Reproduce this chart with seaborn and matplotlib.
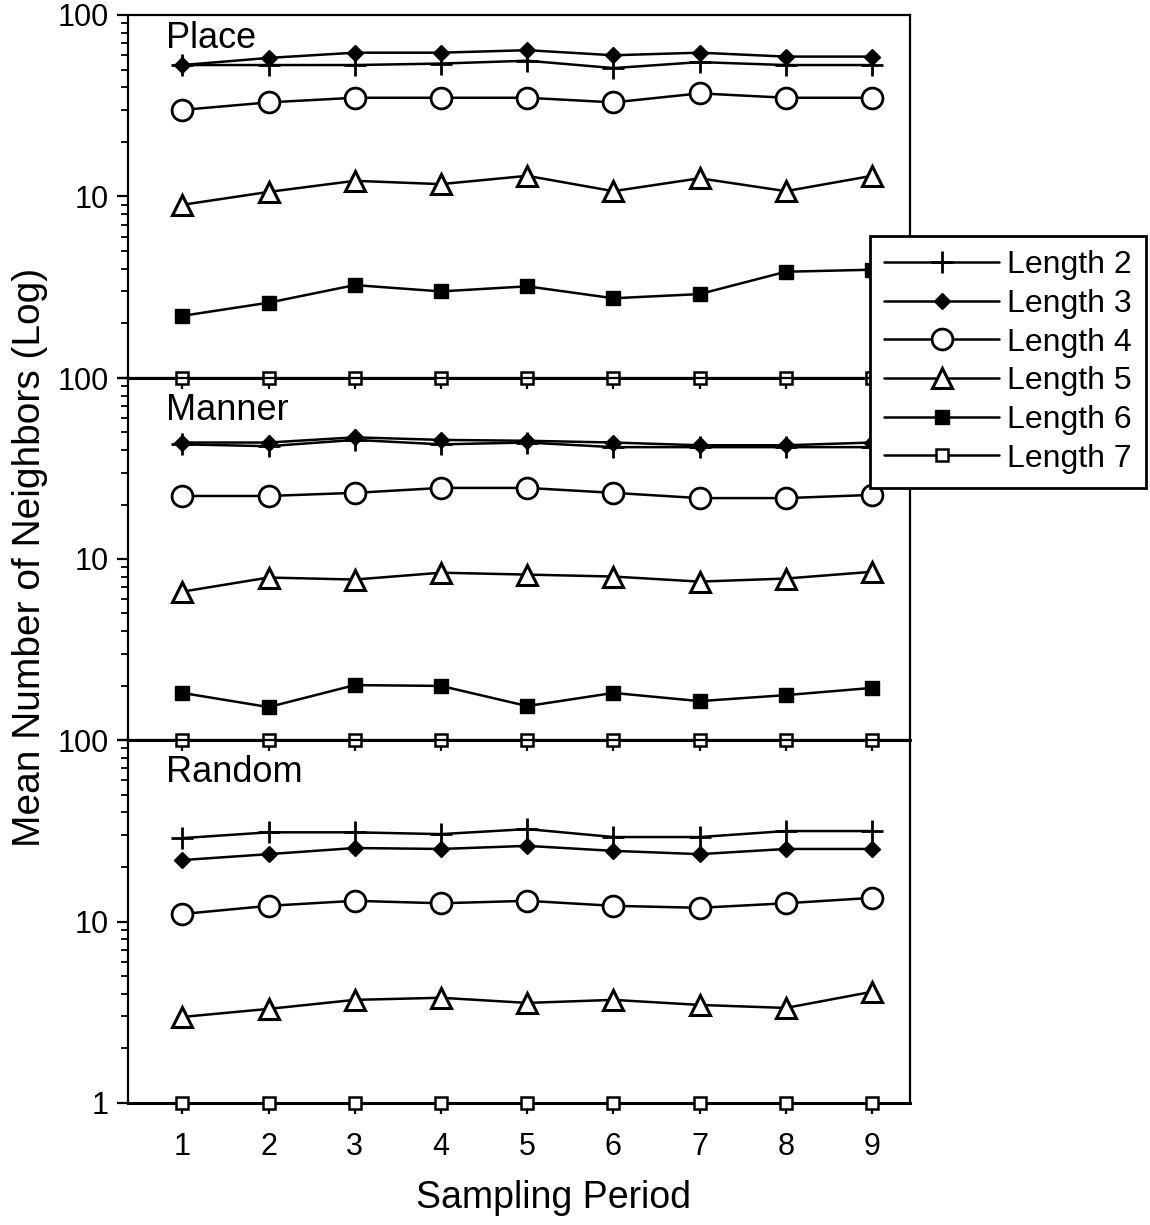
import numpy as np
import pandas as pd
import matplotlib
matplotlib.use("Agg")
import matplotlib.pyplot as plt
from matplotlib.ticker import LogLocator, NullFormatter, FixedLocator
import seaborn as sns

periods = [1, 2, 3, 4, 5, 6, 7, 8, 9]
panels = ["Place", "Manner", "Random"]
lengths = ["Length 2", "Length 3", "Length 4", "Length 5", "Length 6", "Length 7"]

place_l2 = [53, 53, 53, 54, 56, 51, 55, 53, 53]
place_l3 = [53, 58, 62, 62, 64, 60, 62, 59, 59]
place_l4 = [30, 33, 35, 35, 35, 33, 37, 35, 35]
place_l5 = [9.0, 10.6, 12.2, 11.7, 13.0, 10.7, 12.6, 10.7, 13.0]
place_l6 = [2.2, 2.6, 3.25, 3.0, 3.2, 2.75, 2.9, 3.85, 3.95]
place_l7 = [1, 1, 1, 1, 1, 1, 1, 1, 1]

manner_l2 = [43, 42, 45.5, 43, 44, 41.5, 41.5, 41.5, 41.5]
manner_l3 = [44, 44, 47, 45.5, 45, 44, 42.5, 42.5, 44]
manner_l4 = [22.3, 22.3, 23.2, 24.7, 24.7, 23.2, 21.7, 21.7, 22.6]
manner_l5 = [6.6, 7.9, 7.7, 8.4, 8.2, 8.0, 7.5, 7.8, 8.5]
manner_l6 = [1.82, 1.52, 2.01, 1.99, 1.54, 1.82, 1.64, 1.77, 1.94]
manner_l7 = [1, 1, 1, 1, 1, 1, 1, 1, 1]

random_l2 = [28.8, 31, 31, 30.3, 32.3, 29.2, 29.2, 31.5, 31.5]
random_l3 = [21.8, 23.5, 25.4, 25.1, 26.1, 24.5, 23.5, 25.1, 25.1]
random_l4 = [11.0, 12.2, 13.0, 12.6, 13.0, 12.2, 11.9, 12.6, 13.5]
random_l5 = [2.98, 3.3, 3.7, 3.8, 3.56, 3.7, 3.47, 3.34, 4.1]
random_l7 = [1, 1, 1, 1, 1, 1, 1, 1, 1]

panel_data = {
    "Place": {"Length 2": place_l2, "Length 3": place_l3, "Length 4": place_l4,
              "Length 5": place_l5, "Length 6": place_l6, "Length 7": place_l7},
    "Manner": {"Length 2": manner_l2, "Length 3": manner_l3, "Length 4": manner_l4,
               "Length 5": manner_l5, "Length 6": manner_l6, "Length 7": manner_l7},
    "Random": {"Length 2": random_l2, "Length 3": random_l3, "Length 4": random_l4,
               "Length 5": random_l5, "Length 7": random_l7},
}

styles = {
    "Length 2": dict(marker="+", markersize=16, markerfacecolor="black", markeredgewidth=2.0),
    "Length 3": dict(marker="D", markersize=8, markerfacecolor="black", markeredgewidth=1.0),
    "Length 4": dict(marker="o", markersize=15, markerfacecolor="white", markeredgewidth=2.0),
    "Length 5": dict(marker="^", markersize=14, markerfacecolor="white", markeredgewidth=2.2),
    "Length 6": dict(marker="s", markersize=10, markerfacecolor="black", markeredgewidth=1.0),
    "Length 7": dict(marker="s", markersize=8, markerfacecolor="white", markeredgewidth=1.8),
}

sns.set_theme(style="ticks")
plt.rcParams["font.family"] = ["Liberation Sans", "DejaVu Sans"]
plt.rcParams["text.color"] = "black"
plt.rcParams["xtick.color"] = "black"
plt.rcParams["ytick.color"] = "black"
plt.rcParams["axes.labelcolor"] = "black"

W, H = 1150, 1225
fig = plt.figure(figsize=(W / 100, H / 100), dpi=100)

left_px, right_px = 128, 910
tops = [15, 378, 740]
bottoms = [378, 740, 1103]
label_offsets = [24, 33, 33]

axes = []
for i, name in enumerate(panels):
    ax = fig.add_axes([left_px / W, 1 - bottoms[i] / H,
                       (right_px - left_px) / W, (bottoms[i] - tops[i]) / H])
    ax.set_facecolor("none")
    for lname, vals in panel_data[name].items():
        df = pd.DataFrame({"period": periods, "value": vals})
        sns.lineplot(data=df, x="period", y="value", ax=ax, color="black",
                     linewidth=1.8, markeredgecolor="black", label=lname,
                     clip_on=False, zorder=3, **styles[lname])
    ax.set_yscale("log")
    ax.set_ylim(1, 100)
    ax.set_xlim(0.37, 9.44)
    ax.set_xlabel("")
    ax.set_ylabel("")
    ax.yaxis.set_major_locator(FixedLocator([1, 10, 100]))
    if i < 2:
        ax.set_yticklabels(["", "10", "100"])
    else:
        ax.set_yticklabels(["1", "10", "100"])
    ax.yaxis.set_minor_locator(LogLocator(base=10, subs=np.arange(2, 10)))
    ax.yaxis.set_minor_formatter(NullFormatter())
    ax.set_xticks(periods)
    if i < 2:
        ax.set_xticklabels([])
    else:
        ax.set_xticklabels([str(p) for p in periods])
    ax.tick_params(axis="y", which="major", direction="out", length=8, width=1.6,
                   labelsize=22, pad=6, colors="black")
    ax.tick_params(axis="y", which="minor", direction="out", length=5, width=1.3)
    ax.tick_params(axis="x", which="major", direction="out", length=8, width=1.6,
                   labelsize=22, pad=13, colors="black")
    for sp in ax.spines.values():
        sp.set_color("black")
        sp.set_linewidth(1.6)
    ax.spines["bottom"].set_linewidth(2.2)
    ax.text(0.048, 1 - label_offsets[i] / (bottoms[i] - tops[i]), name,
            transform=ax.transAxes, fontsize=26, va="center", ha="left",
            color="black")
    ax.get_legend().remove()
    axes.append(ax)

handles, labels = axes[0].get_legend_handles_labels()
leg = fig.legend(handles, labels, loc="upper left",
                 bbox_to_anchor=(870 / W, 1 - 236 / H),
                 fontsize=23, frameon=True, fancybox=False, framealpha=1,
                 edgecolor="black", handlelength=3.6, handletextpad=0.25,
                 labelspacing=0.27, borderpad=0.45, borderaxespad=0.0,
                 labelcolor="black")
leg.get_frame().set_linewidth(2.0)
leg.set_zorder(10)

fig.text(30 / W, 1 - 557 / H, "Mean Number of Neighbors (Log)", rotation=90,
         fontsize=28, ha="center", va="center", color="black")
fig.text(553 / W, 1 - 1198 / H, "Sampling Period", fontsize=27,
         ha="center", va="center", color="black")

fig.savefig("out.png", dpi=100, facecolor="white")
